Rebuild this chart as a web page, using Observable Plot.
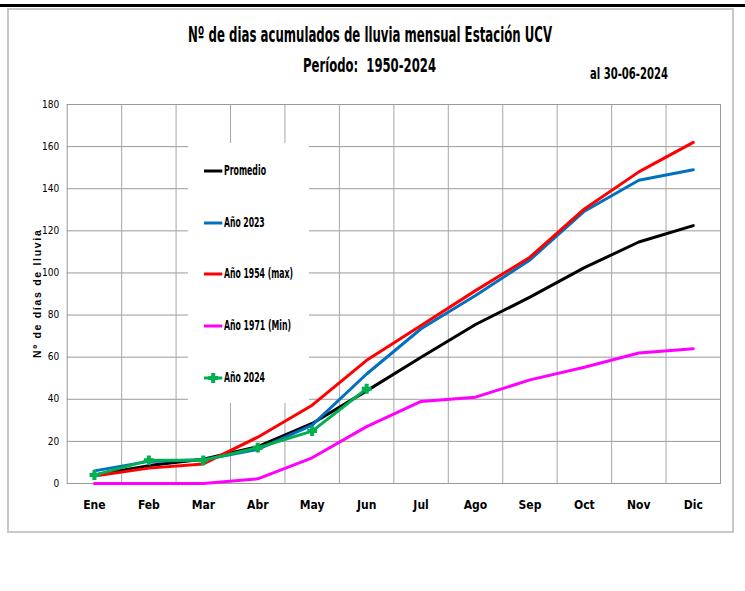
<!DOCTYPE html>
<html>
<head>
<meta charset="utf-8">
<script src="https://cdn.jsdelivr.net/npm/d3@7"></script>
<script src="https://cdn.jsdelivr.net/npm/@observablehq/plot@0.6"></script>
<style>
  body { margin: 0; background: #fff; }
  #wrap { position: relative; width: 745px; height: 591px; overflow: hidden; background: #fff;
          font-family: "Liberation Sans Narrow", "Arial Narrow", "DejaVu Sans Condensed", sans-serif; }
  #topline { position: absolute; left: 0; top: 4px; width: 745px; height: 3px; background: #000; }
  #frame { position: absolute; left: 7px; top: 8px; width: 723px; height: 521px; border: 2px solid #c8c8c8; }
  .t { position: absolute; font-weight: bold; white-space: nowrap; line-height: 1; transform-origin: left top; color: #000; }
  #chart { position: absolute; left: 0; top: 90px; }
  #ylabel { position: absolute; font-family: "Liberation Sans", Arial, sans-serif; font-weight: bold;
            font-size: 10.5px; letter-spacing: 1.7px; white-space: nowrap; line-height: 1;
            transform-origin: center center; }
  #legend { position: absolute; left: 188px; top: 143px; width: 121px; height: 260px; background: #fff; }
  .sw { position: absolute; }
</style>
</head>
<body>
<div id="wrap">
  <div id="topline"></div>
  <div id="frame"></div>
  <div id="chart"></div>
  <div id="legend"></div>
  <div id="ylabel">Nº de días de lluvia</div>
  <div class="t" id="title" data-w="364" style="font-size:21px;left:188px;top:25px;">Nº de dias acumulados de lluvia mensual Estación UCV</div>
  <div class="t" id="subtitle" data-w="133" style="font-size:20px;left:303px;top:55px;">Período:&nbsp; 1950-2024</div>
  <div class="t" id="note" data-w="78" style="font-size:16.5px;left:590px;top:66px;">al 30-06-2024</div>
</div>
<script>
const months = ["Ene","Feb","Mar","Abr","May","Jun","Jul","Ago","Sep","Oct","Nov","Dic"];
const promedio = [4, 8.5, 11.5, 17.5, 28.5, 44, 60, 75.5, 88.5, 102.5, 114.7, 122.5];
const anio2023 = [6, 10.5, 11.3, 16.2, 27.7, 52, 73.5, 89.3, 106.2, 129.3, 144, 149];
const anio1954 = [3.6, 7.3, 9.3, 22, 37.2, 58.5, 75, 91.6, 107.5, 130.4, 148, 162];
const anio1971 = [0, 0, 0, 2.2, 12.2, 27, 39, 41, 49.2, 55.2, 62, 64];
const anio2024 = [4, 11, 11, 17, 24.9, 45];
const yTicks = [0, 20, 40, 60, 80, 100, 120, 140, 160, 180];
const seriesNames = ["Promedio", "Año 2023", "Año 1954 (max)", "Año 1971 (Min)", "Año 2024"];
const seriesColors = ["#000000", "#0070C0", "#FF0000", "#FF00FF", "#00B050"];
const seriesValues = [promedio, anio2023, anio1954, anio1971, anio2024];

const rows = seriesValues.map(vals => vals.map((v, i) => ({i, v})));
const fontNarrow = '"Liberation Sans Narrow", "Arial Narrow", "DejaVu Sans Condensed", sans-serif';

const chart = Plot.plot({
  width: 745,
  height: 430,
  marginLeft: 66.7,
  marginRight: 25,
  marginTop: 14,
  marginBottom: 37,
  x: {domain: [-0.5, 11.5]},
  y: {domain: [0, 180]},
  style: {fontFamily: fontNarrow, background: "transparent", color: "#000"},
  marks: [
    Plot.ruleY(yTicks.slice(1, -1), {stroke: "#9a9a9a", strokeWidth: 1, strokeOpacity: 1}),
    Plot.ruleX(d3.range(0.5, 11, 1), {stroke: "#a6a6a6", strokeWidth: 1, strokeOpacity: 1}),
    Plot.frame({stroke: "#9a9a9a", strokeWidth: 1}),
    Plot.axisY({ticks: yTicks, tickSize: 0, tickPadding: 8, label: null, fontSize: 10}),
    Plot.axisX({ticks: d3.range(12), tickFormat: i => months[i], tickSize: 0, tickPadding: 17,
                label: null, fontSize: 12, fontWeight: "bold"}),
    ...rows.map((r, k) => Plot.line(r, {x: "i", y: "v", stroke: seriesColors[k], strokeWidth: 3,
                                          strokeLinejoin: "round"})),
    Plot.dot(rows[4], {x: "i", y: "v", symbol: "cross", r: 3.6, fill: seriesColors[4], stroke: seriesColors[4], strokeWidth: 1.2})
  ]
});
document.getElementById("chart").appendChild(chart);

// Legend
const legend = document.getElementById("legend");
const legendBaselines = [175.7, 227.5, 278.8, 330.8, 382.8];
const legendWidths = [42, 40.7, 69, 67, 41];
seriesNames.forEach((name, k) => {
  const cy = legendBaselines[k] - 4.8 - 143;
  const svg = d3.create("svg").attr("width", 22).attr("height", 12)
    .attr("class", "sw").style("left", "15px").style("top", (cy - 6) + "px");
  svg.append("line").attr("x1", 1).attr("x2", 19.3).attr("y1", 6).attr("y2", 6)
    .attr("stroke", seriesColors[k]).attr("stroke-width", 3);
  if (k === 4) {
    svg.append("path").attr("transform", "translate(10.2,6)")
      .attr("d", d3.symbol(d3.symbolCross, Math.PI * 3.6 * 3.6)())
      .attr("fill", seriesColors[k]).attr("stroke", seriesColors[k]).attr("stroke-width", 1.2);
  }
  legend.appendChild(svg.node());
  const t = document.createElement("div");
  t.className = "t";
  t.textContent = name;
  t.dataset.w = legendWidths[k];
  t.style.fontSize = "13.5px";
  t.style.left = (223.7 - 188) + "px";
  t.style.top = (legendBaselines[k] - 0.8465 * 13.5 - 143) + "px";
  legend.appendChild(t);
});

// Fit condensed text widths
document.querySelectorAll(".t").forEach(el => {
  const w = +el.dataset.w;
  const actual = el.getBoundingClientRect().width;
  if (w && actual) el.style.transform = `scaleX(${w / actual})`;
});

// Y label rotated
const yl = document.getElementById("ylabel");
const r = yl.getBoundingClientRect();
yl.style.left = (37.5 - r.width / 2) + "px";
yl.style.top = (293 - r.height / 2) + "px";
yl.style.transform = "rotate(-90deg)";
</script>
</body>
</html>
